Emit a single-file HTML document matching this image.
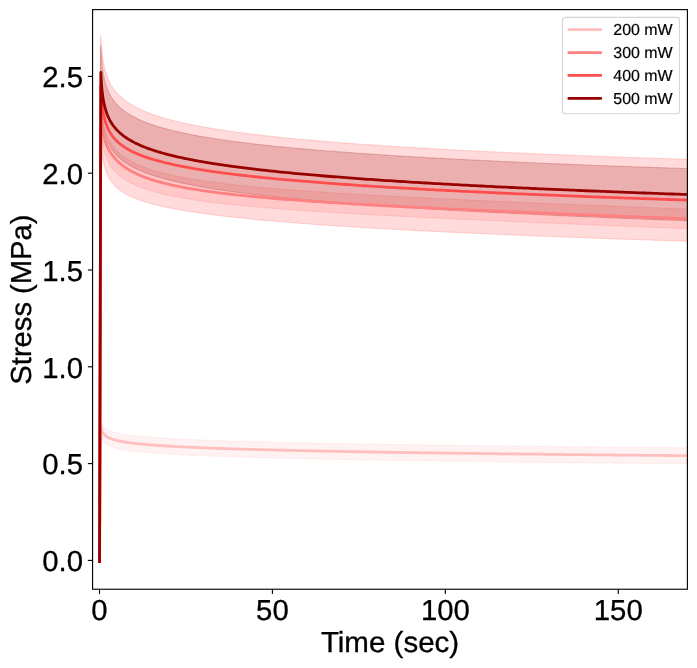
<!DOCTYPE html>
<html><head><meta charset="utf-8"><title>Stress relaxation</title>
<style>
html,body{margin:0;padding:0;background:#fff;}
body{width:697px;height:668px;overflow:hidden;font-family:"Liberation Sans",sans-serif;}
svg{display:block;will-change:transform;}
</style></head><body>
<svg width="697" height="668" viewBox="0 0 697 668"><rect width="697" height="668" fill="#fff"/><defs><clipPath id="ax"><rect x="92.58" y="9.62" width="594.8199999999999" height="579.61"/></clipPath></defs><g clip-path="url(#ax)"><path d="M99.50,560.40L100.45,560.40L100.50,421.04L100.85,419.04L101.09,420.35L101.34,421.39L101.58,422.24L101.83,422.96L102.07,423.58L102.32,424.13L102.56,424.61L102.81,425.05L103.05,425.45L103.30,425.81L103.54,426.15L103.79,426.46L104.03,426.74L104.28,427.01L104.52,427.27L104.77,427.51L105.01,427.73L105.26,427.94L105.50,428.15L105.75,428.34L105.99,428.52L106.24,428.70L106.48,428.87L106.73,429.03L106.97,429.19L107.22,429.33L107.46,429.48L107.71,429.62L107.95,429.75L108.20,429.88L108.44,430.01L108.69,430.13L108.93,430.25L109.18,430.36L109.42,430.47L109.67,430.58L109.91,430.68L110.16,430.79L110.40,430.89L110.65,430.98L110.89,431.08L111.14,431.17L111.38,431.26L111.63,431.35L111.87,431.43L112.12,431.52L112.36,431.60L112.61,431.68L112.85,431.76L113.10,431.84L113.34,431.91L113.59,431.99L113.83,432.06L114.08,432.13L114.32,432.20L114.57,432.27L114.81,432.34L115.06,432.41L115.30,432.47L115.55,432.54L115.79,432.60L116.04,432.66L116.28,432.72L116.53,432.78L116.77,432.84L117.02,432.90L117.26,432.96L117.51,433.02L117.75,433.07L118.00,433.13L118.24,433.18L118.49,433.23L118.73,433.29L118.98,433.34L119.22,433.39L119.47,433.44L119.71,433.49L119.96,433.54L120.20,433.59L120.45,433.64L120.69,433.68L120.94,433.73L121.18,433.78L121.43,433.82L121.67,433.87L121.92,433.91L122.16,433.96L122.41,434.00L122.65,434.04L122.90,434.09L123.14,434.13L123.39,434.17L123.63,434.21L123.88,434.25L124.12,434.29L124.37,434.33L124.61,434.37L124.86,434.41L125.10,434.45L125.35,434.49L125.59,434.53L125.84,434.56L126.08,434.60L126.33,434.64L126.57,434.68L126.82,434.71L127.06,434.75L127.31,434.78L127.55,434.82L127.80,434.85L128.04,434.89L128.29,434.92L128.53,434.96L128.78,434.99L129.02,435.02L129.27,435.06L129.51,435.09L129.76,435.12L130.00,435.15L131.01,435.28L132.02,435.41L133.02,435.53L134.03,435.65L135.04,435.76L136.05,435.87L137.05,435.98L138.06,436.09L139.07,436.19L140.08,436.29L141.09,436.39L142.09,436.48L143.10,436.58L144.11,436.67L145.12,436.75L146.12,436.84L147.13,436.93L148.14,437.01L149.15,437.09L150.16,437.17L151.16,437.25L152.17,437.33L153.18,437.40L154.19,437.47L155.19,437.55L156.20,437.62L157.21,437.69L158.22,437.76L159.22,437.82L160.23,437.89L161.24,437.96L162.25,438.02L163.26,438.08L164.26,438.15L165.27,438.21L166.28,438.27L167.29,438.33L168.29,438.39L169.30,438.45L170.31,438.50L171.32,438.56L172.33,438.61L173.33,438.67L174.34,438.72L175.35,438.78L176.36,438.83L177.36,438.88L178.37,438.93L179.38,438.98L180.39,439.03L181.40,439.08L182.40,439.13L183.41,439.18L184.42,439.23L185.43,439.28L186.43,439.32L187.44,439.37L188.45,439.42L189.46,439.46L190.47,439.51L191.47,439.55L192.48,439.60L193.49,439.64L194.50,439.68L195.50,439.73L196.51,439.77L197.52,439.81L198.53,439.85L199.53,439.89L200.54,439.93L201.55,439.97L202.56,440.01L203.57,440.05L204.57,440.09L205.58,440.13L206.59,440.17L207.60,440.21L208.60,440.25L209.61,440.28L210.62,440.32L211.63,440.36L212.64,440.39L213.64,440.43L214.65,440.47L215.66,440.50L216.67,440.54L217.67,440.57L218.68,440.61L219.69,440.64L220.70,440.68L221.71,440.71L222.71,440.74L223.72,440.78L224.73,440.81L225.74,440.84L226.74,440.88L227.75,440.91L228.76,440.94L229.77,440.97L230.78,441.01L231.78,441.04L232.79,441.07L233.80,441.10L234.81,441.13L235.81,441.16L236.82,441.19L237.83,441.22L238.84,441.25L239.84,441.28L240.85,441.31L241.86,441.34L242.87,441.37L243.88,441.40L244.88,441.43L245.89,441.46L246.90,441.49L247.91,441.52L248.91,441.54L249.92,441.57L250.93,441.60L251.94,441.63L252.95,441.66L253.95,441.68L254.96,441.71L255.97,441.74L256.98,441.76L257.98,441.79L258.99,441.82L260.00,441.84L263.07,441.92L266.15,442.00L269.22,442.08L272.30,442.16L275.37,442.23L278.45,442.31L281.52,442.38L284.60,442.45L287.67,442.52L290.75,442.59L293.82,442.66L296.90,442.73L299.97,442.79L303.05,442.86L306.12,442.92L309.20,442.99L312.27,443.05L315.35,443.11L318.42,443.17L321.50,443.23L324.57,443.29L327.65,443.35L330.72,443.41L333.80,443.47L336.87,443.53L339.95,443.58L343.02,443.64L346.09,443.69L349.17,443.75L352.24,443.80L355.32,443.86L358.39,443.91L361.47,443.96L364.54,444.01L367.62,444.07L370.69,444.12L373.77,444.17L376.84,444.22L379.92,444.27L382.99,444.32L386.07,444.36L389.14,444.41L392.22,444.46L395.29,444.51L398.37,444.55L401.44,444.60L404.52,444.65L407.59,444.69L410.67,444.74L413.74,444.78L416.82,444.83L419.89,444.87L422.97,444.91L426.04,444.96L429.12,445.00L432.19,445.04L435.26,445.08L438.34,445.13L441.41,445.17L444.49,445.21L447.56,445.25L450.64,445.29L453.71,445.33L456.79,445.37L459.86,445.41L462.94,445.45L466.01,445.49L469.09,445.53L472.16,445.57L475.24,445.60L478.31,445.64L481.39,445.68L484.46,445.72L487.54,445.75L490.61,445.79L493.69,445.83L496.76,445.87L499.84,445.90L502.91,445.94L505.99,445.97L509.06,446.01L512.14,446.04L515.21,446.08L518.28,446.11L521.36,446.15L524.43,446.18L527.51,446.22L530.58,446.25L533.66,446.29L536.73,446.32L539.81,446.35L542.88,446.39L545.96,446.42L549.03,446.45L552.11,446.48L555.18,446.52L558.26,446.55L561.33,446.58L564.41,446.61L567.48,446.64L570.56,446.68L573.63,446.71L576.71,446.74L579.78,446.77L582.86,446.80L585.93,446.83L589.01,446.86L592.08,446.89L595.16,446.92L598.23,446.95L601.31,446.98L604.38,447.01L607.45,447.04L610.53,447.07L613.60,447.10L616.68,447.13L619.75,447.16L622.83,447.19L625.90,447.22L628.98,447.25L632.05,447.27L635.13,447.30L638.20,447.33L641.28,447.36L644.35,447.39L647.43,447.41L650.50,447.44L653.58,447.47L656.65,447.50L659.73,447.52L662.80,447.55L665.88,447.58L668.95,447.61L672.03,447.63L675.10,447.66L678.18,447.68L681.25,447.71L684.33,447.74L687.40,447.76L687.40,463.76L684.33,463.74L681.25,463.71L678.18,463.68L675.10,463.66L672.03,463.63L668.95,463.60L665.88,463.57L662.80,463.54L659.73,463.52L656.65,463.49L653.58,463.46L650.50,463.43L647.43,463.40L644.35,463.37L641.28,463.35L638.20,463.32L635.13,463.29L632.05,463.26L628.98,463.23L625.90,463.20L622.83,463.17L619.75,463.14L616.68,463.11L613.60,463.08L610.53,463.05L607.45,463.02L604.38,462.99L601.31,462.96L598.23,462.93L595.16,462.90L592.08,462.86L589.01,462.83L585.93,462.80L582.86,462.77L579.78,462.74L576.71,462.71L573.63,462.67L570.56,462.64L567.48,462.61L564.41,462.58L561.33,462.54L558.26,462.51L555.18,462.48L552.11,462.44L549.03,462.41L545.96,462.38L542.88,462.34L539.81,462.31L536.73,462.27L533.66,462.24L530.58,462.20L527.51,462.17L524.43,462.13L521.36,462.10L518.28,462.06L515.21,462.02L512.14,461.99L509.06,461.95L505.99,461.92L502.91,461.88L499.84,461.84L496.76,461.80L493.69,461.77L490.61,461.73L487.54,461.69L484.46,461.65L481.39,461.61L478.31,461.57L475.24,461.53L472.16,461.49L469.09,461.45L466.01,461.41L462.94,461.37L459.86,461.33L456.79,461.29L453.71,461.25L450.64,461.21L447.56,461.17L444.49,461.12L441.41,461.08L438.34,461.04L435.26,461.00L432.19,460.95L429.12,460.91L426.04,460.86L422.97,460.82L419.89,460.77L416.82,460.73L413.74,460.68L410.67,460.64L407.59,460.59L404.52,460.54L401.44,460.49L398.37,460.45L395.29,460.40L392.22,460.35L389.14,460.30L386.07,460.25L382.99,460.20L379.92,460.15L376.84,460.10L373.77,460.05L370.69,460.00L367.62,459.94L364.54,459.89L361.47,459.84L358.39,459.78L355.32,459.73L352.24,459.67L349.17,459.61L346.09,459.56L343.02,459.50L339.95,459.44L336.87,459.38L333.80,459.33L330.72,459.27L327.65,459.20L324.57,459.14L321.50,459.08L318.42,459.02L315.35,458.95L312.27,458.89L309.20,458.82L306.12,458.76L303.05,458.69L299.97,458.62L296.90,458.55L293.82,458.48L290.75,458.41L287.67,458.34L284.60,458.27L281.52,458.19L278.45,458.12L275.37,458.04L272.30,457.96L269.22,457.89L266.15,457.81L263.07,457.72L260.00,457.64L258.99,457.61L257.98,457.59L256.98,457.56L255.97,457.53L254.96,457.50L253.95,457.47L252.95,457.44L251.94,457.42L250.93,457.39L249.92,457.36L248.91,457.33L247.91,457.30L246.90,457.27L245.89,457.24L244.88,457.21L243.88,457.18L242.87,457.15L241.86,457.12L240.85,457.09L239.84,457.06L238.84,457.03L237.83,457.00L236.82,456.96L235.81,456.93L234.81,456.90L233.80,456.87L232.79,456.84L231.78,456.80L230.78,456.77L229.77,456.74L228.76,456.70L227.75,456.67L226.74,456.64L225.74,456.60L224.73,456.57L223.72,456.53L222.71,456.50L221.71,456.46L220.70,456.43L219.69,456.39L218.68,456.36L217.67,456.32L216.67,456.28L215.66,456.25L214.65,456.21L213.64,456.17L212.64,456.13L211.63,456.10L210.62,456.06L209.61,456.02L208.60,455.98L207.60,455.94L206.59,455.90L205.58,455.86L204.57,455.82L203.57,455.78L202.56,455.74L201.55,455.70L200.54,455.66L199.53,455.61L198.53,455.57L197.52,455.53L196.51,455.48L195.50,455.44L194.50,455.40L193.49,455.35L192.48,455.31L191.47,455.26L190.47,455.21L189.46,455.17L188.45,455.12L187.44,455.07L186.43,455.02L185.43,454.98L184.42,454.93L183.41,454.88L182.40,454.83L181.40,454.77L180.39,454.72L179.38,454.67L178.37,454.62L177.36,454.56L176.36,454.51L175.35,454.46L174.34,454.40L173.33,454.34L172.33,454.29L171.32,454.23L170.31,454.17L169.30,454.11L168.29,454.05L167.29,453.99L166.28,453.93L165.27,453.86L164.26,453.80L163.26,453.73L162.25,453.67L161.24,453.60L160.23,453.53L159.22,453.46L158.22,453.39L157.21,453.32L156.20,453.25L155.19,453.18L154.19,453.10L153.18,453.02L152.17,452.95L151.16,452.87L150.16,452.78L149.15,452.70L148.14,452.62L147.13,452.53L146.12,452.44L145.12,452.35L144.11,452.26L143.10,452.17L142.09,452.07L141.09,451.97L140.08,451.87L139.07,451.77L138.06,451.66L137.05,451.55L136.05,451.44L135.04,451.32L134.03,451.20L133.02,451.08L132.02,450.95L131.01,450.82L130.00,450.69L129.76,450.65L129.51,450.62L129.27,450.59L129.02,450.55L128.78,450.52L128.53,450.48L128.29,450.45L128.04,450.41L127.80,450.38L127.55,450.34L127.31,450.30L127.06,450.27L126.82,450.23L126.57,450.19L126.33,450.15L126.08,450.11L125.84,450.08L125.59,450.04L125.35,450.00L125.10,449.96L124.86,449.92L124.61,449.88L124.37,449.83L124.12,449.79L123.88,449.75L123.63,449.71L123.39,449.67L123.14,449.62L122.90,449.58L122.65,449.53L122.41,449.49L122.16,449.44L121.92,449.40L121.67,449.35L121.43,449.30L121.18,449.26L120.94,449.21L120.69,449.16L120.45,449.11L120.20,449.06L119.96,449.01L119.71,448.96L119.47,448.91L119.22,448.85L118.98,448.80L118.73,448.75L118.49,448.69L118.24,448.64L118.00,448.58L117.75,448.52L117.51,448.47L117.26,448.41L117.02,448.35L116.77,448.29L116.53,448.22L116.28,448.16L116.04,448.10L115.79,448.03L115.55,447.97L115.30,447.90L115.06,447.83L114.81,447.76L114.57,447.69L114.32,447.62L114.08,447.55L113.83,447.47L113.59,447.40L113.34,447.32L113.10,447.24L112.85,447.16L112.61,447.08L112.36,447.00L112.12,446.91L111.87,446.82L111.63,446.73L111.38,446.64L111.14,446.55L110.89,446.45L110.65,446.36L110.40,446.26L110.16,446.15L109.91,446.05L109.67,445.94L109.42,445.83L109.18,445.71L108.93,445.59L108.69,445.47L108.44,445.34L108.20,445.21L107.95,445.08L107.71,444.94L107.46,444.80L107.22,444.65L106.97,444.49L106.73,444.33L106.48,444.16L106.24,443.99L105.99,443.81L105.75,443.62L105.50,443.42L105.26,443.21L105.01,442.99L104.77,442.76L104.52,442.51L104.28,442.25L104.03,441.97L103.79,441.67L103.54,441.35L103.30,441.00L103.05,440.63L102.81,440.22L102.56,439.77L102.32,439.27L102.07,438.70L101.83,438.06L101.58,437.32L101.34,436.45L101.09,435.39L100.85,434.04L100.50,436.04Z" fill="#ffbfbf" fill-opacity="0.2" stroke="#ffbfbf" stroke-opacity="0.2" stroke-width="1.1" stroke-linejoin="round"/><path d="M99.50,560.40L100.45,560.40L100.50,100.51L100.85,98.51L101.09,104.38L101.34,108.59L101.58,111.83L101.83,114.44L102.07,116.63L102.32,118.51L102.56,120.16L102.81,121.63L103.05,122.96L103.30,124.18L103.54,125.30L103.79,126.34L104.03,127.32L104.28,128.23L104.52,129.10L104.77,129.92L105.01,130.70L105.26,131.44L105.50,132.15L105.75,132.84L105.99,133.49L106.24,134.13L106.48,134.73L106.73,135.32L106.97,135.89L107.22,136.44L107.46,136.98L107.71,137.50L107.95,138.00L108.20,138.49L108.44,138.97L108.69,139.43L108.93,139.89L109.18,140.33L109.42,140.76L109.67,141.18L109.91,141.60L110.16,142.00L110.40,142.39L110.65,142.78L110.89,143.16L111.14,143.53L111.38,143.89L111.63,144.25L111.87,144.60L112.12,144.94L112.36,145.28L112.61,145.61L112.85,145.93L113.10,146.25L113.34,146.56L113.59,146.87L113.83,147.18L114.08,147.47L114.32,147.77L114.57,148.06L114.81,148.34L115.06,148.62L115.30,148.90L115.55,149.17L115.79,149.44L116.04,149.70L116.28,149.96L116.53,150.22L116.77,150.47L117.02,150.72L117.26,150.96L117.51,151.21L117.75,151.45L118.00,151.68L118.24,151.92L118.49,152.15L118.73,152.37L118.98,152.60L119.22,152.82L119.47,153.04L119.71,153.25L119.96,153.47L120.20,153.68L120.45,153.89L120.69,154.09L120.94,154.30L121.18,154.50L121.43,154.70L121.67,154.90L121.92,155.09L122.16,155.28L122.41,155.48L122.65,155.66L122.90,155.85L123.14,156.04L123.39,156.22L123.63,156.40L123.88,156.58L124.12,156.76L124.37,156.93L124.61,157.10L124.86,157.28L125.10,157.45L125.35,157.61L125.59,157.78L125.84,157.95L126.08,158.11L126.33,158.27L126.57,158.43L126.82,158.59L127.06,158.75L127.31,158.91L127.55,159.06L127.80,159.22L128.04,159.37L128.29,159.52L128.53,159.67L128.78,159.82L129.02,159.96L129.27,160.11L129.51,160.25L129.76,160.40L130.00,160.54L131.01,161.11L132.02,161.66L133.02,162.19L134.03,162.71L135.04,163.21L136.05,163.70L137.05,164.17L138.06,164.63L139.07,165.08L140.08,165.51L141.09,165.93L142.09,166.35L143.10,166.75L144.11,167.14L145.12,167.52L146.12,167.89L147.13,168.25L148.14,168.61L149.15,168.95L150.16,169.29L151.16,169.63L152.17,169.95L153.18,170.27L154.19,170.58L155.19,170.88L156.20,171.18L157.21,171.47L158.22,171.76L159.22,172.04L160.23,172.32L161.24,172.59L162.25,172.85L163.26,173.11L164.26,173.37L165.27,173.62L166.28,173.87L167.29,174.11L168.29,174.35L169.30,174.59L170.31,174.82L171.32,175.05L172.33,175.27L173.33,175.49L174.34,175.71L175.35,175.92L176.36,176.13L177.36,176.34L178.37,176.54L179.38,176.74L180.39,176.94L181.40,177.14L182.40,177.33L183.41,177.52L184.42,177.71L185.43,177.89L186.43,178.08L187.44,178.26L188.45,178.44L189.46,178.61L190.47,178.78L191.47,178.96L192.48,179.12L193.49,179.29L194.50,179.46L195.50,179.62L196.51,179.78L197.52,179.94L198.53,180.10L199.53,180.25L200.54,180.41L201.55,180.56L202.56,180.71L203.57,180.86L204.57,181.00L205.58,181.15L206.59,181.29L207.60,181.44L208.60,181.58L209.61,181.72L210.62,181.85L211.63,181.99L212.64,182.13L213.64,182.26L214.65,182.39L215.66,182.52L216.67,182.65L217.67,182.78L218.68,182.91L219.69,183.04L220.70,183.16L221.71,183.29L222.71,183.41L223.72,183.53L224.73,183.65L225.74,183.77L226.74,183.89L227.75,184.01L228.76,184.12L229.77,184.24L230.78,184.35L231.78,184.47L232.79,184.58L233.80,184.69L234.81,184.80L235.81,184.91L236.82,185.02L237.83,185.13L238.84,185.24L239.84,185.35L240.85,185.45L241.86,185.56L242.87,185.66L243.88,185.76L244.88,185.87L245.89,185.97L246.90,186.07L247.91,186.17L248.91,186.27L249.92,186.37L250.93,186.47L251.94,186.56L252.95,186.66L253.95,186.76L254.96,186.85L255.97,186.95L256.98,187.04L257.98,187.13L258.99,187.23L260.00,187.32L263.07,187.60L266.15,187.87L269.22,188.14L272.30,188.40L275.37,188.66L278.45,188.91L281.52,189.16L284.60,189.41L287.67,189.65L290.75,189.89L293.82,190.12L296.90,190.35L299.97,190.58L303.05,190.80L306.12,191.02L309.20,191.24L312.27,191.46L315.35,191.67L318.42,191.88L321.50,192.08L324.57,192.29L327.65,192.49L330.72,192.69L333.80,192.89L336.87,193.08L339.95,193.27L343.02,193.46L346.09,193.65L349.17,193.84L352.24,194.02L355.32,194.21L358.39,194.39L361.47,194.57L364.54,194.75L367.62,194.92L370.69,195.10L373.77,195.27L376.84,195.44L379.92,195.61L382.99,195.78L386.07,195.95L389.14,196.11L392.22,196.28L395.29,196.44L398.37,196.60L401.44,196.77L404.52,196.93L407.59,197.08L410.67,197.24L413.74,197.40L416.82,197.55L419.89,197.71L422.97,197.86L426.04,198.02L429.12,198.17L432.19,198.32L435.26,198.47L438.34,198.62L441.41,198.77L444.49,198.91L447.56,199.06L450.64,199.21L453.71,199.35L456.79,199.49L459.86,199.64L462.94,199.78L466.01,199.92L469.09,200.07L472.16,200.21L475.24,200.35L478.31,200.49L481.39,200.62L484.46,200.76L487.54,200.90L490.61,201.04L493.69,201.17L496.76,201.31L499.84,201.45L502.91,201.58L505.99,201.71L509.06,201.85L512.14,201.98L515.21,202.11L518.28,202.25L521.36,202.38L524.43,202.51L527.51,202.64L530.58,202.77L533.66,202.90L536.73,203.03L539.81,203.16L542.88,203.29L545.96,203.42L549.03,203.55L552.11,203.67L555.18,203.80L558.26,203.93L561.33,204.05L564.41,204.18L567.48,204.31L570.56,204.43L573.63,204.56L576.71,204.68L579.78,204.80L582.86,204.93L585.93,205.05L589.01,205.18L592.08,205.30L595.16,205.42L598.23,205.54L601.31,205.67L604.38,205.79L607.45,205.91L610.53,206.03L613.60,206.15L616.68,206.27L619.75,206.39L622.83,206.51L625.90,206.63L628.98,206.75L632.05,206.87L635.13,206.99L638.20,207.11L641.28,207.23L644.35,207.35L647.43,207.47L650.50,207.58L653.58,207.70L656.65,207.82L659.73,207.94L662.80,208.05L665.88,208.17L668.95,208.29L672.03,208.40L675.10,208.52L678.18,208.64L681.25,208.75L684.33,208.87L687.40,208.98L687.40,228.62L684.33,228.50L681.25,228.38L678.18,228.26L675.10,228.14L672.03,228.03L668.95,227.91L665.88,227.79L662.80,227.67L659.73,227.55L656.65,227.43L653.58,227.31L650.50,227.19L647.43,227.07L644.35,226.95L641.28,226.83L638.20,226.71L635.13,226.59L632.05,226.46L628.98,226.34L625.90,226.22L622.83,226.10L619.75,225.98L616.68,225.85L613.60,225.73L610.53,225.61L607.45,225.49L604.38,225.36L601.31,225.24L598.23,225.12L595.16,224.99L592.08,224.87L589.01,224.74L585.93,224.62L582.86,224.49L579.78,224.37L576.71,224.24L573.63,224.12L570.56,223.99L567.48,223.86L564.41,223.74L561.33,223.61L558.26,223.48L555.18,223.35L552.11,223.23L549.03,223.10L545.96,222.97L542.88,222.84L539.81,222.71L536.73,222.58L533.66,222.45L530.58,222.32L527.51,222.19L524.43,222.06L521.36,221.92L518.28,221.79L515.21,221.66L512.14,221.53L509.06,221.39L505.99,221.26L502.91,221.12L499.84,220.99L496.76,220.85L493.69,220.72L490.61,220.58L487.54,220.45L484.46,220.31L481.39,220.17L478.31,220.03L475.24,219.89L472.16,219.75L469.09,219.61L466.01,219.47L462.94,219.33L459.86,219.19L456.79,219.05L453.71,218.90L450.64,218.76L447.56,218.62L444.49,218.47L441.41,218.32L438.34,218.18L435.26,218.03L432.19,217.88L429.12,217.73L426.04,217.58L422.97,217.43L419.89,217.28L416.82,217.13L413.74,216.98L410.67,216.82L407.59,216.67L404.52,216.51L401.44,216.35L398.37,216.20L395.29,216.04L392.22,215.88L389.14,215.72L386.07,215.55L382.99,215.39L379.92,215.22L376.84,215.06L373.77,214.89L370.69,214.72L367.62,214.55L364.54,214.38L361.47,214.21L358.39,214.04L355.32,213.86L352.24,213.68L349.17,213.50L346.09,213.32L343.02,213.14L339.95,212.96L336.87,212.77L333.80,212.58L330.72,212.39L327.65,212.20L324.57,212.01L321.50,211.81L318.42,211.61L315.35,211.41L312.27,211.21L309.20,211.00L306.12,210.80L303.05,210.59L299.97,210.37L296.90,210.16L293.82,209.94L290.75,209.71L287.67,209.49L284.60,209.26L281.52,209.02L278.45,208.79L275.37,208.55L272.30,208.30L269.22,208.05L266.15,207.80L263.07,207.54L260.00,207.28L258.99,207.19L257.98,207.11L256.98,207.02L255.97,206.93L254.96,206.84L253.95,206.75L252.95,206.66L251.94,206.57L250.93,206.48L249.92,206.38L248.91,206.29L247.91,206.20L246.90,206.10L245.89,206.01L244.88,205.91L243.88,205.82L242.87,205.72L241.86,205.62L240.85,205.52L239.84,205.42L238.84,205.33L237.83,205.22L236.82,205.12L235.81,205.02L234.81,204.92L233.80,204.81L232.79,204.71L231.78,204.60L230.78,204.50L229.77,204.39L228.76,204.28L227.75,204.17L226.74,204.06L225.74,203.95L224.73,203.84L223.72,203.73L222.71,203.62L221.71,203.50L220.70,203.38L219.69,203.27L218.68,203.15L217.67,203.03L216.67,202.91L215.66,202.79L214.65,202.67L213.64,202.54L212.64,202.42L211.63,202.29L210.62,202.17L209.61,202.04L208.60,201.91L207.60,201.78L206.59,201.65L205.58,201.51L204.57,201.38L203.57,201.24L202.56,201.10L201.55,200.96L200.54,200.82L199.53,200.68L198.53,200.53L197.52,200.39L196.51,200.24L195.50,200.09L194.50,199.94L193.49,199.79L192.48,199.63L191.47,199.48L190.47,199.32L189.46,199.16L188.45,198.99L187.44,198.83L186.43,198.66L185.43,198.49L184.42,198.32L183.41,198.15L182.40,197.97L181.40,197.79L180.39,197.61L179.38,197.43L178.37,197.24L177.36,197.06L176.36,196.86L175.35,196.67L174.34,196.47L173.33,196.27L172.33,196.07L171.32,195.86L170.31,195.65L169.30,195.44L168.29,195.22L167.29,195.00L166.28,194.77L165.27,194.55L164.26,194.31L163.26,194.08L162.25,193.84L161.24,193.59L160.23,193.34L159.22,193.09L158.22,192.83L157.21,192.56L156.20,192.29L155.19,192.02L154.19,191.74L153.18,191.45L152.17,191.16L151.16,190.86L150.16,190.55L149.15,190.24L148.14,189.92L147.13,189.59L146.12,189.26L145.12,188.91L144.11,188.56L143.10,188.20L142.09,187.83L141.09,187.45L140.08,187.06L139.07,186.66L138.06,186.25L137.05,185.82L136.05,185.39L135.04,184.94L134.03,184.47L133.02,183.99L132.02,183.50L131.01,182.99L130.00,182.46L129.76,182.33L129.51,182.19L129.27,182.06L129.02,181.92L128.78,181.79L128.53,181.65L128.29,181.51L128.04,181.37L127.80,181.23L127.55,181.09L127.31,180.95L127.06,180.80L126.82,180.65L126.57,180.51L126.33,180.36L126.08,180.21L125.84,180.06L125.59,179.90L125.35,179.75L125.10,179.59L124.86,179.43L124.61,179.27L124.37,179.11L124.12,178.95L123.88,178.78L123.63,178.62L123.39,178.45L123.14,178.28L122.90,178.11L122.65,177.93L122.41,177.76L122.16,177.58L121.92,177.40L121.67,177.22L121.43,177.03L121.18,176.85L120.94,176.66L120.69,176.47L120.45,176.28L120.20,176.08L119.96,175.89L119.71,175.69L119.47,175.49L119.22,175.28L118.98,175.07L118.73,174.86L118.49,174.65L118.24,174.44L118.00,174.22L117.75,174.00L117.51,173.77L117.26,173.55L117.02,173.32L116.77,173.08L116.53,172.85L116.28,172.61L116.04,172.36L115.79,172.11L115.55,171.86L115.30,171.61L115.06,171.35L114.81,171.09L114.57,170.82L114.32,170.55L114.08,170.27L113.83,169.99L113.59,169.70L113.34,169.41L113.10,169.12L112.85,168.82L112.61,168.51L112.36,168.20L112.12,167.88L111.87,167.56L111.63,167.23L111.38,166.89L111.14,166.54L110.89,166.19L110.65,165.83L110.40,165.47L110.16,165.09L109.91,164.71L109.67,164.31L109.42,163.91L109.18,163.50L108.93,163.08L108.69,162.64L108.44,162.20L108.20,161.74L107.95,161.27L107.71,160.78L107.46,160.28L107.22,159.77L106.97,159.23L106.73,158.68L106.48,158.11L106.24,157.52L105.99,156.90L105.75,156.26L105.50,155.59L105.26,154.89L105.01,154.16L104.77,153.38L104.52,152.57L104.28,151.71L104.03,150.79L103.79,149.81L103.54,148.76L103.30,147.63L103.05,146.39L102.81,145.02L102.56,143.51L102.32,141.80L102.07,139.84L101.83,137.54L101.58,134.78L101.34,131.34L101.09,126.83L100.85,120.52L100.50,122.52Z" fill="#ff8080" fill-opacity="0.2" stroke="#ff8080" stroke-opacity="0.2" stroke-width="1.1" stroke-linejoin="round"/><path d="M99.50,560.40L100.45,560.40L100.50,37.53L100.85,35.53L101.09,40.23L101.34,44.05L101.58,47.25L101.83,50.01L102.07,52.43L102.32,54.59L102.56,56.54L102.81,58.31L103.05,59.93L103.30,61.43L103.54,62.82L103.79,64.12L104.03,65.34L104.28,66.48L104.52,67.56L104.77,68.59L105.01,69.56L105.26,70.48L105.50,71.37L105.75,72.21L105.99,73.02L106.24,73.79L106.48,74.54L106.73,75.26L106.97,75.95L107.22,76.61L107.46,77.26L107.71,77.88L107.95,78.49L108.20,79.07L108.44,79.64L108.69,80.19L108.93,80.72L109.18,81.24L109.42,81.75L109.67,82.24L109.91,82.73L110.16,83.19L110.40,83.65L110.65,84.10L110.89,84.54L111.14,84.96L111.38,85.38L111.63,85.79L111.87,86.19L112.12,86.58L112.36,86.96L112.61,87.34L112.85,87.70L113.10,88.07L113.34,88.42L113.59,88.77L113.83,89.11L114.08,89.44L114.32,89.77L114.57,90.10L114.81,90.42L115.06,90.73L115.30,91.04L115.55,91.34L115.79,91.64L116.04,91.93L116.28,92.22L116.53,92.50L116.77,92.78L117.02,93.06L117.26,93.33L117.51,93.60L117.75,93.86L118.00,94.12L118.24,94.38L118.49,94.64L118.73,94.89L118.98,95.13L119.22,95.38L119.47,95.62L119.71,95.85L119.96,96.09L120.20,96.32L120.45,96.55L120.69,96.77L120.94,97.00L121.18,97.22L121.43,97.44L121.67,97.65L121.92,97.86L122.16,98.08L122.41,98.28L122.65,98.49L122.90,98.69L123.14,98.89L123.39,99.09L123.63,99.29L123.88,99.49L124.12,99.68L124.37,99.87L124.61,100.06L124.86,100.25L125.10,100.43L125.35,100.62L125.59,100.80L125.84,100.98L126.08,101.16L126.33,101.33L126.57,101.51L126.82,101.68L127.06,101.85L127.31,102.02L127.55,102.19L127.80,102.36L128.04,102.52L128.29,102.69L128.53,102.85L128.78,103.01L129.02,103.17L129.27,103.33L129.51,103.49L129.76,103.64L130.00,103.80L131.01,104.42L132.02,105.02L133.02,105.61L134.03,106.17L135.04,106.72L136.05,107.26L137.05,107.77L138.06,108.28L139.07,108.77L140.08,109.25L141.09,109.71L142.09,110.17L143.10,110.61L144.11,111.05L145.12,111.47L146.12,111.88L147.13,112.29L148.14,112.69L149.15,113.07L150.16,113.45L151.16,113.83L152.17,114.19L153.18,114.55L154.19,114.90L155.19,115.25L156.20,115.58L157.21,115.92L158.22,116.24L159.22,116.56L160.23,116.88L161.24,117.19L162.25,117.49L163.26,117.79L164.26,118.09L165.27,118.38L166.28,118.67L167.29,118.95L168.29,119.23L169.30,119.50L170.31,119.77L171.32,120.03L172.33,120.30L173.33,120.55L174.34,120.81L175.35,121.06L176.36,121.31L177.36,121.55L178.37,121.79L179.38,122.03L180.39,122.27L181.40,122.50L182.40,122.73L183.41,122.96L184.42,123.18L185.43,123.40L186.43,123.62L187.44,123.84L188.45,124.05L189.46,124.26L190.47,124.47L191.47,124.68L192.48,124.88L193.49,125.08L194.50,125.28L195.50,125.48L196.51,125.67L197.52,125.87L198.53,126.06L199.53,126.25L200.54,126.44L201.55,126.62L202.56,126.81L203.57,126.99L204.57,127.17L205.58,127.35L206.59,127.52L207.60,127.70L208.60,127.87L209.61,128.04L210.62,128.21L211.63,128.38L212.64,128.55L213.64,128.72L214.65,128.88L215.66,129.04L216.67,129.21L217.67,129.37L218.68,129.52L219.69,129.68L220.70,129.84L221.71,129.99L222.71,130.15L223.72,130.30L224.73,130.45L225.74,130.60L226.74,130.75L227.75,130.89L228.76,131.04L229.77,131.19L230.78,131.33L231.78,131.47L232.79,131.61L233.80,131.75L234.81,131.89L235.81,132.03L236.82,132.17L237.83,132.31L238.84,132.44L239.84,132.58L240.85,132.71L241.86,132.84L242.87,132.98L243.88,133.11L244.88,133.24L245.89,133.36L246.90,133.49L247.91,133.62L248.91,133.75L249.92,133.87L250.93,134.00L251.94,134.12L252.95,134.24L253.95,134.37L254.96,134.49L255.97,134.61L256.98,134.73L257.98,134.85L258.99,134.96L260.00,135.08L263.07,135.44L266.15,135.78L269.22,136.13L272.30,136.46L275.37,136.79L278.45,137.11L281.52,137.43L284.60,137.74L287.67,138.05L290.75,138.35L293.82,138.65L296.90,138.94L299.97,139.23L303.05,139.52L306.12,139.80L309.20,140.07L312.27,140.34L315.35,140.61L318.42,140.87L321.50,141.14L324.57,141.39L327.65,141.65L330.72,141.89L333.80,142.14L336.87,142.38L339.95,142.63L343.02,142.86L346.09,143.10L349.17,143.33L352.24,143.56L355.32,143.78L358.39,144.01L361.47,144.23L364.54,144.44L367.62,144.66L370.69,144.87L373.77,145.08L376.84,145.29L379.92,145.50L382.99,145.70L386.07,145.90L389.14,146.10L392.22,146.30L395.29,146.49L398.37,146.69L401.44,146.88L404.52,147.07L407.59,147.25L410.67,147.44L413.74,147.62L416.82,147.81L419.89,147.99L422.97,148.17L426.04,148.34L429.12,148.52L432.19,148.69L435.26,148.86L438.34,149.03L441.41,149.20L444.49,149.37L447.56,149.54L450.64,149.70L453.71,149.86L456.79,150.03L459.86,150.19L462.94,150.34L466.01,150.50L469.09,150.66L472.16,150.81L475.24,150.97L478.31,151.12L481.39,151.27L484.46,151.42L487.54,151.57L490.61,151.72L493.69,151.86L496.76,152.01L499.84,152.15L502.91,152.30L505.99,152.44L509.06,152.58L512.14,152.72L515.21,152.86L518.28,153.00L521.36,153.14L524.43,153.27L527.51,153.41L530.58,153.54L533.66,153.67L536.73,153.81L539.81,153.94L542.88,154.07L545.96,154.20L549.03,154.33L552.11,154.45L555.18,154.58L558.26,154.71L561.33,154.83L564.41,154.96L567.48,155.08L570.56,155.20L573.63,155.33L576.71,155.45L579.78,155.57L582.86,155.69L585.93,155.81L589.01,155.92L592.08,156.04L595.16,156.16L598.23,156.28L601.31,156.39L604.38,156.51L607.45,156.62L610.53,156.73L613.60,156.85L616.68,156.96L619.75,157.07L622.83,157.18L625.90,157.29L628.98,157.40L632.05,157.51L635.13,157.62L638.20,157.72L641.28,157.83L644.35,157.94L647.43,158.04L650.50,158.15L653.58,158.25L656.65,158.36L659.73,158.46L662.80,158.56L665.88,158.67L668.95,158.77L672.03,158.87L675.10,158.97L678.18,159.07L681.25,159.17L684.33,159.27L687.40,159.37L687.40,241.23L684.33,241.14L681.25,241.04L678.18,240.94L675.10,240.85L672.03,240.75L668.95,240.65L665.88,240.55L662.80,240.45L659.73,240.35L656.65,240.25L653.58,240.15L650.50,240.05L647.43,239.95L644.35,239.85L641.28,239.75L638.20,239.65L635.13,239.54L632.05,239.44L628.98,239.34L625.90,239.23L622.83,239.13L619.75,239.02L616.68,238.91L613.60,238.81L610.53,238.70L607.45,238.59L604.38,238.48L601.31,238.38L598.23,238.27L595.16,238.16L592.08,238.05L589.01,237.94L585.93,237.82L582.86,237.71L579.78,237.60L576.71,237.49L573.63,237.37L570.56,237.26L567.48,237.14L564.41,237.03L561.33,236.91L558.26,236.79L555.18,236.68L552.11,236.56L549.03,236.44L545.96,236.32L542.88,236.20L539.81,236.08L536.73,235.96L533.66,235.84L530.58,235.71L527.51,235.59L524.43,235.46L521.36,235.34L518.28,235.21L515.21,235.09L512.14,234.96L509.06,234.83L505.99,234.70L502.91,234.57L499.84,234.44L496.76,234.31L493.69,234.18L490.61,234.04L487.54,233.91L484.46,233.77L481.39,233.64L478.31,233.50L475.24,233.36L472.16,233.23L469.09,233.09L466.01,232.94L462.94,232.80L459.86,232.66L456.79,232.52L453.71,232.37L450.64,232.23L447.56,232.08L444.49,231.93L441.41,231.78L438.34,231.63L435.26,231.48L432.19,231.33L429.12,231.18L426.04,231.02L422.97,230.86L419.89,230.71L416.82,230.55L413.74,230.39L410.67,230.23L407.59,230.07L404.52,229.90L401.44,229.74L398.37,229.57L395.29,229.40L392.22,229.23L389.14,229.06L386.07,228.89L382.99,228.71L379.92,228.54L376.84,228.36L373.77,228.18L370.69,228.00L367.62,227.82L364.54,227.63L361.47,227.45L358.39,227.26L355.32,227.07L352.24,226.88L349.17,226.68L346.09,226.49L343.02,226.29L339.95,226.09L336.87,225.88L333.80,225.68L330.72,225.47L327.65,225.26L324.57,225.05L321.50,224.83L318.42,224.62L315.35,224.40L312.27,224.18L309.20,223.95L306.12,223.72L303.05,223.49L299.97,223.26L296.90,223.02L293.82,222.78L290.75,222.53L287.67,222.29L284.60,222.03L281.52,221.78L278.45,221.52L275.37,221.26L272.30,220.99L269.22,220.72L266.15,220.44L263.07,220.16L260.00,219.88L258.99,219.78L257.98,219.69L256.98,219.59L255.97,219.50L254.96,219.40L253.95,219.30L252.95,219.21L251.94,219.11L250.93,219.01L249.92,218.91L248.91,218.81L247.91,218.71L246.90,218.61L245.89,218.51L244.88,218.40L243.88,218.30L242.87,218.20L241.86,218.09L240.85,217.99L239.84,217.88L238.84,217.77L237.83,217.67L236.82,217.56L235.81,217.45L234.81,217.34L233.80,217.23L232.79,217.12L231.78,217.01L230.78,216.90L229.77,216.78L228.76,216.67L227.75,216.55L226.74,216.44L225.74,216.32L224.73,216.20L223.72,216.09L222.71,215.97L221.71,215.85L220.70,215.73L219.69,215.60L218.68,215.48L217.67,215.36L216.67,215.23L215.66,215.11L214.65,214.98L213.64,214.85L212.64,214.72L211.63,214.59L210.62,214.46L209.61,214.33L208.60,214.20L207.60,214.06L206.59,213.93L205.58,213.79L204.57,213.65L203.57,213.51L202.56,213.37L201.55,213.23L200.54,213.09L199.53,212.94L198.53,212.80L197.52,212.65L196.51,212.50L195.50,212.35L194.50,212.20L193.49,212.05L192.48,211.89L191.47,211.74L190.47,211.58L189.46,211.42L188.45,211.26L187.44,211.10L186.43,210.93L185.43,210.77L184.42,210.60L183.41,210.43L182.40,210.25L181.40,210.08L180.39,209.90L179.38,209.73L178.37,209.55L177.36,209.36L176.36,209.18L175.35,208.99L174.34,208.80L173.33,208.61L172.33,208.41L171.32,208.21L170.31,208.01L169.30,207.81L168.29,207.61L167.29,207.40L166.28,207.18L165.27,206.97L164.26,206.75L163.26,206.53L162.25,206.30L161.24,206.07L160.23,205.84L159.22,205.61L158.22,205.36L157.21,205.12L156.20,204.87L155.19,204.62L154.19,204.36L153.18,204.10L152.17,203.83L151.16,203.56L150.16,203.28L149.15,202.99L148.14,202.70L147.13,202.41L146.12,202.11L145.12,201.80L144.11,201.48L143.10,201.16L142.09,200.83L141.09,200.49L140.08,200.14L139.07,199.78L138.06,199.41L137.05,199.04L136.05,198.65L135.04,198.25L134.03,197.84L133.02,197.41L132.02,196.98L131.01,196.52L130.00,196.06L129.76,195.94L129.51,195.82L129.27,195.70L129.02,195.59L128.78,195.47L128.53,195.34L128.29,195.22L128.04,195.10L127.80,194.97L127.55,194.85L127.31,194.72L127.06,194.59L126.82,194.46L126.57,194.33L126.33,194.20L126.08,194.07L125.84,193.93L125.59,193.79L125.35,193.66L125.10,193.52L124.86,193.38L124.61,193.24L124.37,193.09L124.12,192.95L123.88,192.80L123.63,192.65L123.39,192.50L123.14,192.35L122.90,192.20L122.65,192.04L122.41,191.89L122.16,191.73L121.92,191.57L121.67,191.40L121.43,191.24L121.18,191.07L120.94,190.90L120.69,190.73L120.45,190.56L120.20,190.38L119.96,190.21L119.71,190.03L119.47,189.84L119.22,189.66L118.98,189.47L118.73,189.28L118.49,189.09L118.24,188.89L118.00,188.69L117.75,188.49L117.51,188.29L117.26,188.08L117.02,187.87L116.77,187.65L116.53,187.44L116.28,187.22L116.04,186.99L115.79,186.76L115.55,186.53L115.30,186.29L115.06,186.05L114.81,185.80L114.57,185.55L114.32,185.30L114.08,185.04L113.83,184.77L113.59,184.50L113.34,184.23L113.10,183.95L112.85,183.66L112.61,183.37L112.36,183.07L112.12,182.76L111.87,182.45L111.63,182.13L111.38,181.80L111.14,181.46L110.89,181.12L110.65,180.76L110.40,180.40L110.16,180.03L109.91,179.64L109.67,179.25L109.42,178.84L109.18,178.43L108.93,178.00L108.69,177.55L108.44,177.09L108.20,176.62L107.95,176.13L107.71,175.62L107.46,175.09L107.22,174.55L106.97,173.98L106.73,173.39L106.48,172.77L106.24,172.12L105.99,171.45L105.75,170.74L105.50,170.00L105.26,169.22L105.01,168.40L104.77,167.52L104.52,166.60L104.28,165.62L104.03,164.56L103.79,163.44L103.54,162.22L103.30,160.90L103.05,159.47L102.81,157.90L102.56,156.16L102.32,154.22L102.07,152.03L101.83,149.53L101.58,146.63L101.34,143.17L101.09,138.93L100.85,133.53L100.50,135.53Z" fill="#ff4d4d" fill-opacity="0.2" stroke="#ff4d4d" stroke-opacity="0.2" stroke-width="1.1" stroke-linejoin="round"/><path d="M99.50,560.40L100.45,560.40L100.50,47.73L100.85,45.73L101.09,50.86L101.34,54.98L101.58,58.40L101.83,61.33L102.07,63.88L102.32,66.14L102.56,68.16L102.81,69.99L103.05,71.67L103.30,73.20L103.54,74.63L103.79,75.95L104.03,77.19L104.28,78.35L104.52,79.44L104.77,80.47L105.01,81.45L105.26,82.37L105.50,83.26L105.75,84.10L105.99,84.91L106.24,85.68L106.48,86.42L106.73,87.13L106.97,87.82L107.22,88.48L107.46,89.11L107.71,89.73L107.95,90.32L108.20,90.90L108.44,91.46L108.69,92.00L108.93,92.52L109.18,93.03L109.42,93.53L109.67,94.01L109.91,94.48L110.16,94.94L110.40,95.39L110.65,95.82L110.89,96.25L111.14,96.66L111.38,97.07L111.63,97.47L111.87,97.85L112.12,98.23L112.36,98.61L112.61,98.97L112.85,99.33L113.10,99.68L113.34,100.02L113.59,100.36L113.83,100.69L114.08,101.01L114.32,101.33L114.57,101.64L114.81,101.95L115.06,102.25L115.30,102.55L115.55,102.84L115.79,103.13L116.04,103.41L116.28,103.69L116.53,103.96L116.77,104.23L117.02,104.50L117.26,104.76L117.51,105.02L117.75,105.27L118.00,105.52L118.24,105.77L118.49,106.01L118.73,106.25L118.98,106.49L119.22,106.72L119.47,106.95L119.71,107.18L119.96,107.40L120.20,107.63L120.45,107.84L120.69,108.06L120.94,108.27L121.18,108.49L121.43,108.69L121.67,108.90L121.92,109.10L122.16,109.31L122.41,109.50L122.65,109.70L122.90,109.90L123.14,110.09L123.39,110.28L123.63,110.47L123.88,110.65L124.12,110.84L124.37,111.02L124.61,111.20L124.86,111.38L125.10,111.56L125.35,111.73L125.59,111.91L125.84,112.08L126.08,112.25L126.33,112.42L126.57,112.58L126.82,112.75L127.06,112.91L127.31,113.07L127.55,113.24L127.80,113.39L128.04,113.55L128.29,113.71L128.53,113.86L128.78,114.02L129.02,114.17L129.27,114.32L129.51,114.47L129.76,114.62L130.00,114.77L131.01,115.36L132.02,115.93L133.02,116.49L134.03,117.03L135.04,117.55L136.05,118.05L137.05,118.55L138.06,119.03L139.07,119.49L140.08,119.95L141.09,120.39L142.09,120.82L143.10,121.24L144.11,121.65L145.12,122.06L146.12,122.45L147.13,122.83L148.14,123.21L149.15,123.58L150.16,123.94L151.16,124.29L152.17,124.64L153.18,124.98L154.19,125.31L155.19,125.64L156.20,125.96L157.21,126.28L158.22,126.59L159.22,126.89L160.23,127.19L161.24,127.48L162.25,127.77L163.26,128.06L164.26,128.34L165.27,128.62L166.28,128.89L167.29,129.15L168.29,129.42L169.30,129.68L170.31,129.93L171.32,130.19L172.33,130.44L173.33,130.68L174.34,130.92L175.35,131.16L176.36,131.40L177.36,131.63L178.37,131.86L179.38,132.09L180.39,132.31L181.40,132.53L182.40,132.75L183.41,132.97L184.42,133.18L185.43,133.39L186.43,133.60L187.44,133.80L188.45,134.01L189.46,134.21L190.47,134.41L191.47,134.60L192.48,134.80L193.49,134.99L194.50,135.18L195.50,135.37L196.51,135.56L197.52,135.74L198.53,135.92L199.53,136.10L200.54,136.28L201.55,136.46L202.56,136.64L203.57,136.81L204.57,136.98L205.58,137.15L206.59,137.32L207.60,137.49L208.60,137.65L209.61,137.82L210.62,137.98L211.63,138.14L212.64,138.30L213.64,138.46L214.65,138.62L215.66,138.77L216.67,138.93L217.67,139.08L218.68,139.23L219.69,139.39L220.70,139.53L221.71,139.68L222.71,139.83L223.72,139.98L224.73,140.12L225.74,140.26L226.74,140.41L227.75,140.55L228.76,140.69L229.77,140.83L230.78,140.97L231.78,141.10L232.79,141.24L233.80,141.37L234.81,141.51L235.81,141.64L236.82,141.77L237.83,141.90L238.84,142.03L239.84,142.16L240.85,142.29L241.86,142.42L242.87,142.55L243.88,142.67L244.88,142.80L245.89,142.92L246.90,143.04L247.91,143.17L248.91,143.29L249.92,143.41L250.93,143.53L251.94,143.65L252.95,143.77L253.95,143.88L254.96,144.00L255.97,144.12L256.98,144.23L257.98,144.35L258.99,144.46L260.00,144.57L263.07,144.92L266.15,145.25L269.22,145.58L272.30,145.90L275.37,146.22L278.45,146.54L281.52,146.84L284.60,147.15L287.67,147.44L290.75,147.74L293.82,148.03L296.90,148.31L299.97,148.59L303.05,148.87L306.12,149.14L309.20,149.40L312.27,149.67L315.35,149.93L318.42,150.19L321.50,150.44L324.57,150.69L327.65,150.94L330.72,151.18L333.80,151.42L336.87,151.66L339.95,151.89L343.02,152.13L346.09,152.35L349.17,152.58L352.24,152.80L355.32,153.03L358.39,153.24L361.47,153.46L364.54,153.67L367.62,153.88L370.69,154.09L373.77,154.30L376.84,154.50L379.92,154.71L382.99,154.91L386.07,155.11L389.14,155.30L392.22,155.50L395.29,155.69L398.37,155.88L401.44,156.07L404.52,156.25L407.59,156.44L410.67,156.62L413.74,156.80L416.82,156.98L419.89,157.16L422.97,157.34L426.04,157.51L429.12,157.68L432.19,157.86L435.26,158.03L438.34,158.20L441.41,158.36L444.49,158.53L447.56,158.69L450.64,158.86L453.71,159.02L456.79,159.18L459.86,159.34L462.94,159.50L466.01,159.65L469.09,159.81L472.16,159.96L475.24,160.12L478.31,160.27L481.39,160.42L484.46,160.57L487.54,160.72L490.61,160.86L493.69,161.01L496.76,161.15L499.84,161.30L502.91,161.44L505.99,161.58L509.06,161.72L512.14,161.86L515.21,162.00L518.28,162.14L521.36,162.28L524.43,162.41L527.51,162.55L530.58,162.68L533.66,162.82L536.73,162.95L539.81,163.08L542.88,163.21L545.96,163.34L549.03,163.47L552.11,163.60L555.18,163.73L558.26,163.85L561.33,163.98L564.41,164.11L567.48,164.23L570.56,164.35L573.63,164.48L576.71,164.60L579.78,164.72L582.86,164.84L585.93,164.96L589.01,165.08L592.08,165.20L595.16,165.32L598.23,165.43L601.31,165.55L604.38,165.66L607.45,165.78L610.53,165.89L613.60,166.01L616.68,166.12L619.75,166.23L622.83,166.35L625.90,166.46L628.98,166.57L632.05,166.68L635.13,166.79L638.20,166.90L641.28,167.00L644.35,167.11L647.43,167.22L650.50,167.33L653.58,167.43L656.65,167.54L659.73,167.64L662.80,167.75L665.88,167.85L668.95,167.95L672.03,168.06L675.10,168.16L678.18,168.26L681.25,168.36L684.33,168.46L687.40,168.56L687.40,220.78L684.33,220.67L681.25,220.56L678.18,220.45L675.10,220.33L672.03,220.22L668.95,220.11L665.88,219.99L662.80,219.88L659.73,219.76L656.65,219.65L653.58,219.53L650.50,219.41L647.43,219.29L644.35,219.18L641.28,219.06L638.20,218.94L635.13,218.82L632.05,218.70L628.98,218.57L625.90,218.45L622.83,218.33L619.75,218.21L616.68,218.08L613.60,217.96L610.53,217.83L607.45,217.71L604.38,217.58L601.31,217.45L598.23,217.32L595.16,217.20L592.08,217.07L589.01,216.94L585.93,216.81L582.86,216.67L579.78,216.54L576.71,216.41L573.63,216.28L570.56,216.14L567.48,216.01L564.41,215.87L561.33,215.73L558.26,215.60L555.18,215.46L552.11,215.32L549.03,215.18L545.96,215.04L542.88,214.90L539.81,214.75L536.73,214.61L533.66,214.47L530.58,214.32L527.51,214.17L524.43,214.03L521.36,213.88L518.28,213.73L515.21,213.58L512.14,213.43L509.06,213.28L505.99,213.12L502.91,212.97L499.84,212.81L496.76,212.66L493.69,212.50L490.61,212.34L487.54,212.18L484.46,212.02L481.39,211.86L478.31,211.70L475.24,211.53L472.16,211.37L469.09,211.20L466.01,211.03L462.94,210.87L459.86,210.70L456.79,210.52L453.71,210.35L450.64,210.18L447.56,210.00L444.49,209.82L441.41,209.65L438.34,209.47L435.26,209.29L432.19,209.10L429.12,208.92L426.04,208.73L422.97,208.55L419.89,208.36L416.82,208.17L413.74,207.97L410.67,207.78L407.59,207.58L404.52,207.39L401.44,207.19L398.37,206.99L395.29,206.78L392.22,206.58L389.14,206.37L386.07,206.17L382.99,205.95L379.92,205.74L376.84,205.53L373.77,205.31L370.69,205.09L367.62,204.87L364.54,204.65L361.47,204.42L358.39,204.19L355.32,203.96L352.24,203.73L349.17,203.49L346.09,203.25L343.02,203.01L339.95,202.77L336.87,202.52L333.80,202.27L330.72,202.02L327.65,201.76L324.57,201.50L321.50,201.24L318.42,200.98L315.35,200.71L312.27,200.43L309.20,200.16L306.12,199.88L303.05,199.60L299.97,199.31L296.90,199.02L293.82,198.72L290.75,198.42L287.67,198.12L284.60,197.81L281.52,197.49L278.45,197.17L275.37,196.85L272.30,196.52L269.22,196.19L266.15,195.85L263.07,195.50L260.00,195.15L258.99,195.03L257.98,194.92L256.98,194.80L255.97,194.68L254.96,194.56L253.95,194.44L252.95,194.32L251.94,194.20L250.93,194.07L249.92,193.95L248.91,193.83L247.91,193.70L246.90,193.58L245.89,193.45L244.88,193.32L243.88,193.20L242.87,193.07L241.86,192.94L240.85,192.81L239.84,192.68L238.84,192.54L237.83,192.41L236.82,192.28L235.81,192.14L234.81,192.01L233.80,191.87L232.79,191.73L231.78,191.59L230.78,191.45L229.77,191.31L228.76,191.17L227.75,191.03L226.74,190.88L225.74,190.74L224.73,190.59L223.72,190.45L222.71,190.30L221.71,190.15L220.70,190.00L219.69,189.85L218.68,189.69L217.67,189.54L216.67,189.38L215.66,189.23L214.65,189.07L213.64,188.91L212.64,188.75L211.63,188.59L210.62,188.43L209.61,188.26L208.60,188.09L207.60,187.93L206.59,187.76L205.58,187.59L204.57,187.42L203.57,187.24L202.56,187.07L201.55,186.89L200.54,186.71L199.53,186.53L198.53,186.35L197.52,186.17L196.51,185.98L195.50,185.79L194.50,185.60L193.49,185.41L192.48,185.22L191.47,185.03L190.47,184.83L189.46,184.63L188.45,184.43L187.44,184.22L186.43,184.02L185.43,183.81L184.42,183.60L183.41,183.39L182.40,183.17L181.40,182.95L180.39,182.73L179.38,182.51L178.37,182.29L177.36,182.06L176.36,181.83L175.35,181.59L174.34,181.35L173.33,181.11L172.33,180.87L171.32,180.62L170.31,180.37L169.30,180.12L168.29,179.86L167.29,179.60L166.28,179.34L165.27,179.07L164.26,178.80L163.26,178.52L162.25,178.24L161.24,177.95L160.23,177.66L159.22,177.37L158.22,177.07L157.21,176.76L156.20,176.45L155.19,176.14L154.19,175.82L153.18,175.49L152.17,175.16L151.16,174.82L150.16,174.47L149.15,174.12L148.14,173.76L147.13,173.39L146.12,173.01L145.12,172.63L144.11,172.24L143.10,171.84L142.09,171.43L141.09,171.01L140.08,170.58L139.07,170.14L138.06,169.68L137.05,169.22L136.05,168.74L135.04,168.25L134.03,167.75L133.02,167.23L132.02,166.69L131.01,166.14L130.00,165.56L129.76,165.42L129.51,165.28L129.27,165.13L129.02,164.99L128.78,164.84L128.53,164.69L128.29,164.54L128.04,164.39L127.80,164.24L127.55,164.09L127.31,163.93L127.06,163.78L126.82,163.62L126.57,163.46L126.33,163.30L126.08,163.14L125.84,162.98L125.59,162.81L125.35,162.64L125.10,162.47L124.86,162.30L124.61,162.13L124.37,161.96L124.12,161.78L123.88,161.61L123.63,161.43L123.39,161.25L123.14,161.06L122.90,160.88L122.65,160.69L122.41,160.50L122.16,160.31L121.92,160.12L121.67,159.92L121.43,159.73L121.18,159.53L120.94,159.32L120.69,159.12L120.45,158.91L120.20,158.70L119.96,158.49L119.71,158.28L119.47,158.06L119.22,157.84L118.98,157.61L118.73,157.39L118.49,157.16L118.24,156.92L118.00,156.69L117.75,156.45L117.51,156.21L117.26,155.96L117.02,155.71L116.77,155.46L116.53,155.20L116.28,154.94L116.04,154.67L115.79,154.40L115.55,154.13L115.30,153.85L115.06,153.57L114.81,153.28L114.57,152.98L114.32,152.69L114.08,152.38L113.83,152.07L113.59,151.76L113.34,151.44L113.10,151.11L112.85,150.78L112.61,150.44L112.36,150.09L112.12,149.74L111.87,149.37L111.63,149.00L111.38,148.62L111.14,148.24L110.89,147.84L110.65,147.44L110.40,147.02L110.16,146.60L109.91,146.16L109.67,145.71L109.42,145.25L109.18,144.78L108.93,144.29L108.69,143.79L108.44,143.28L108.20,142.74L107.95,142.20L107.71,141.63L107.46,141.04L107.22,140.43L106.97,139.80L106.73,139.15L106.48,138.47L106.24,137.76L105.99,137.03L105.75,136.26L105.50,135.45L105.26,134.61L105.01,133.72L104.77,132.78L104.52,131.79L104.28,130.75L104.03,129.63L103.79,128.45L103.54,127.17L103.30,125.80L103.05,124.32L102.81,122.71L102.56,120.93L102.32,118.97L102.07,116.78L101.83,114.29L101.58,111.43L101.34,108.07L101.09,104.02L100.85,98.92L100.50,100.92Z" fill="#990000" fill-opacity="0.2" stroke="#990000" stroke-opacity="0.2" stroke-width="1.1" stroke-linejoin="round"/><path d="M99.55,561.50L100.85,426.44L101.09,427.77L101.34,428.82L101.58,429.68L101.83,430.41L102.07,431.04L102.32,431.60L102.56,432.09L102.81,432.53L103.05,432.94L103.30,433.31L103.54,433.65L103.79,433.96L104.03,434.26L104.28,434.53L104.52,434.79L104.77,435.03L105.01,435.26L105.26,435.48L105.50,435.68L105.75,435.88L105.99,436.07L106.24,436.25L106.48,436.42L106.73,436.58L106.97,436.74L107.22,436.89L107.46,437.04L107.71,437.18L107.95,437.32L108.20,437.45L108.44,437.57L108.69,437.70L108.93,437.82L109.18,437.93L109.42,438.05L109.67,438.16L109.91,438.26L110.16,438.37L110.40,438.47L110.65,438.57L110.89,438.67L111.14,438.76L111.38,438.85L111.63,438.94L111.87,439.03L112.12,439.12L112.36,439.20L112.61,439.28L112.85,439.36L113.10,439.44L113.34,439.52L113.59,439.59L113.83,439.67L114.08,439.74L114.32,439.81L114.57,439.88L114.81,439.95L115.06,440.02L115.30,440.09L115.55,440.15L115.79,440.22L116.04,440.28L116.28,440.34L116.53,440.40L116.77,440.46L117.02,440.52L117.26,440.58L117.51,440.64L117.75,440.70L118.00,440.75L118.24,440.81L118.49,440.86L118.73,440.92L118.98,440.97L119.22,441.02L119.47,441.07L119.71,441.12L119.96,441.18L120.20,441.22L120.45,441.27L120.69,441.32L120.94,441.37L121.18,441.42L121.43,441.46L121.67,441.51L121.92,441.56L122.16,441.60L122.41,441.65L122.65,441.69L122.90,441.73L123.14,441.78L123.39,441.82L123.63,441.86L123.88,441.90L124.12,441.94L124.37,441.98L124.61,442.02L124.86,442.06L125.10,442.10L125.35,442.14L125.59,442.18L125.84,442.22L126.08,442.26L126.33,442.30L126.57,442.33L126.82,442.37L127.06,442.41L127.31,442.44L127.55,442.48L127.80,442.51L128.04,442.55L128.29,442.58L128.53,442.62L128.78,442.65L129.02,442.69L129.27,442.72L129.51,442.75L129.76,442.79L130.00,442.82L131.01,442.95L132.02,443.08L133.02,443.21L134.03,443.33L135.04,443.44L136.05,443.56L137.05,443.67L138.06,443.77L139.07,443.88L140.08,443.98L141.09,444.08L142.09,444.18L143.10,444.27L144.11,444.36L145.12,444.45L146.12,444.54L147.13,444.63L148.14,444.71L149.15,444.80L150.16,444.88L151.16,444.96L152.17,445.04L153.18,445.11L154.19,445.19L155.19,445.26L156.20,445.33L157.21,445.41L158.22,445.48L159.22,445.54L160.23,445.61L161.24,445.68L162.25,445.74L163.26,445.81L164.26,445.87L165.27,445.94L166.28,446.00L167.29,446.06L168.29,446.12L169.30,446.18L170.31,446.24L171.32,446.29L172.33,446.35L173.33,446.41L174.34,446.46L175.35,446.52L176.36,446.57L177.36,446.62L178.37,446.68L179.38,446.73L180.39,446.78L181.40,446.83L182.40,446.88L183.41,446.93L184.42,446.98L185.43,447.03L186.43,447.07L187.44,447.12L188.45,447.17L189.46,447.22L190.47,447.26L191.47,447.31L192.48,447.35L193.49,447.40L194.50,447.44L195.50,447.48L196.51,447.53L197.52,447.57L198.53,447.61L199.53,447.65L200.54,447.69L201.55,447.74L202.56,447.78L203.57,447.82L204.57,447.86L205.58,447.90L206.59,447.94L207.60,447.97L208.60,448.01L209.61,448.05L210.62,448.09L211.63,448.13L212.64,448.16L213.64,448.20L214.65,448.24L215.66,448.27L216.67,448.31L217.67,448.35L218.68,448.38L219.69,448.42L220.70,448.45L221.71,448.49L222.71,448.52L223.72,448.56L224.73,448.59L225.74,448.62L226.74,448.66L227.75,448.69L228.76,448.72L229.77,448.76L230.78,448.79L231.78,448.82L232.79,448.85L233.80,448.88L234.81,448.92L235.81,448.95L236.82,448.98L237.83,449.01L238.84,449.04L239.84,449.07L240.85,449.10L241.86,449.13L242.87,449.16L243.88,449.19L244.88,449.22L245.89,449.25L246.90,449.28L247.91,449.31L248.91,449.34L249.92,449.37L250.93,449.39L251.94,449.42L252.95,449.45L253.95,449.48L254.96,449.51L255.97,449.53L256.98,449.56L257.98,449.59L258.99,449.62L260.00,449.64L263.07,449.72L266.15,449.80L269.22,449.88L272.30,449.96L275.37,450.04L278.45,450.11L281.52,450.19L284.60,450.26L287.67,450.33L290.75,450.40L293.82,450.47L296.90,450.54L299.97,450.61L303.05,450.67L306.12,450.74L309.20,450.81L312.27,450.87L315.35,450.93L318.42,451.00L321.50,451.06L324.57,451.12L327.65,451.18L330.72,451.24L333.80,451.30L336.87,451.36L339.95,451.41L343.02,451.47L346.09,451.53L349.17,451.58L352.24,451.64L355.32,451.69L358.39,451.75L361.47,451.80L364.54,451.85L367.62,451.90L370.69,451.96L373.77,452.01L376.84,452.06L379.92,452.11L382.99,452.16L386.07,452.21L389.14,452.26L392.22,452.30L395.29,452.35L398.37,452.40L401.44,452.45L404.52,452.49L407.59,452.54L410.67,452.59L413.74,452.63L416.82,452.68L419.89,452.72L422.97,452.77L426.04,452.81L429.12,452.85L432.19,452.90L435.26,452.94L438.34,452.98L441.41,453.02L444.49,453.07L447.56,453.11L450.64,453.15L453.71,453.19L456.79,453.23L459.86,453.27L462.94,453.31L466.01,453.35L469.09,453.39L472.16,453.43L475.24,453.47L478.31,453.51L481.39,453.55L484.46,453.58L487.54,453.62L490.61,453.66L493.69,453.70L496.76,453.73L499.84,453.77L502.91,453.81L505.99,453.84L509.06,453.88L512.14,453.92L515.21,453.95L518.28,453.99L521.36,454.02L524.43,454.06L527.51,454.09L530.58,454.13L533.66,454.16L536.73,454.20L539.81,454.23L542.88,454.26L545.96,454.30L549.03,454.33L552.11,454.36L555.18,454.40L558.26,454.43L561.33,454.46L564.41,454.49L567.48,454.53L570.56,454.56L573.63,454.59L576.71,454.62L579.78,454.65L582.86,454.69L585.93,454.72L589.01,454.75L592.08,454.78L595.16,454.81L598.23,454.84L601.31,454.87L604.38,454.90L607.45,454.93L610.53,454.96L613.60,454.99L616.68,455.02L619.75,455.05L622.83,455.08L625.90,455.11L628.98,455.14L632.05,455.17L635.13,455.19L638.20,455.22L641.28,455.25L644.35,455.28L647.43,455.31L650.50,455.34L653.58,455.36L656.65,455.39L659.73,455.42L662.80,455.45L665.88,455.48L668.95,455.50L672.03,455.53L675.10,455.56L678.18,455.58L681.25,455.61L684.33,455.64L687.40,455.66" fill="none" stroke="#ffbfbf" stroke-width="2.78" stroke-linejoin="round" stroke-linecap="square"/><path d="M99.55,561.50L100.85,108.51L101.09,114.37L101.34,118.58L101.58,121.81L101.83,124.42L102.07,126.60L102.32,128.48L102.56,130.12L102.81,131.59L103.05,132.92L103.30,134.14L103.54,135.26L103.79,136.30L104.03,137.27L104.28,138.18L104.52,139.05L104.77,139.87L105.01,140.65L105.26,141.39L105.50,142.10L105.75,142.78L105.99,143.44L106.24,144.07L106.48,144.68L106.73,145.26L106.97,145.83L107.22,146.38L107.46,146.92L107.71,147.43L107.95,147.94L108.20,148.43L108.44,148.90L108.69,149.37L108.93,149.82L109.18,150.26L109.42,150.69L109.67,151.11L109.91,151.52L110.16,151.93L110.40,152.32L110.65,152.70L110.89,153.08L111.14,153.45L111.38,153.81L111.63,154.17L111.87,154.52L112.12,154.86L112.36,155.20L112.61,155.53L112.85,155.85L113.10,156.17L113.34,156.48L113.59,156.79L113.83,157.09L114.08,157.39L114.32,157.68L114.57,157.97L114.81,158.26L115.06,158.53L115.30,158.81L115.55,159.08L115.79,159.35L116.04,159.61L116.28,159.87L116.53,160.13L116.77,160.38L117.02,160.63L117.26,160.87L117.51,161.12L117.75,161.36L118.00,161.59L118.24,161.82L118.49,162.05L118.73,162.28L118.98,162.50L119.22,162.73L119.47,162.94L119.71,163.16L119.96,163.37L120.20,163.59L120.45,163.79L120.69,164.00L120.94,164.20L121.18,164.40L121.43,164.60L121.67,164.80L121.92,164.99L122.16,165.19L122.41,165.38L122.65,165.57L122.90,165.75L123.14,165.94L123.39,166.12L123.63,166.30L123.88,166.48L124.12,166.66L124.37,166.83L124.61,167.00L124.86,167.18L125.10,167.34L125.35,167.51L125.59,167.68L125.84,167.84L126.08,168.01L126.33,168.17L126.57,168.33L126.82,168.49L127.06,168.65L127.31,168.80L127.55,168.96L127.80,169.11L128.04,169.26L128.29,169.41L128.53,169.56L128.78,169.71L129.02,169.86L129.27,170.00L129.51,170.15L129.76,170.29L130.00,170.43L131.01,171.00L132.02,171.55L133.02,172.08L134.03,172.60L135.04,173.10L136.05,173.59L137.05,174.06L138.06,174.52L139.07,174.96L140.08,175.40L141.09,175.82L142.09,176.23L143.10,176.63L144.11,177.02L145.12,177.40L146.12,177.77L147.13,178.13L148.14,178.49L149.15,178.83L150.16,179.17L151.16,179.50L152.17,179.83L153.18,180.14L154.19,180.45L155.19,180.76L156.20,181.05L157.21,181.35L158.22,181.63L159.22,181.91L160.23,182.19L161.24,182.46L162.25,182.72L163.26,182.98L164.26,183.24L165.27,183.49L166.28,183.74L167.29,183.98L168.29,184.22L169.30,184.45L170.31,184.68L171.32,184.91L172.33,185.14L173.33,185.36L174.34,185.57L175.35,185.79L176.36,186.00L177.36,186.20L178.37,186.41L179.38,186.61L180.39,186.81L181.40,187.00L182.40,187.19L183.41,187.38L184.42,187.57L185.43,187.76L186.43,187.94L187.44,188.12L188.45,188.29L189.46,188.47L190.47,188.64L191.47,188.81L192.48,188.98L193.49,189.15L194.50,189.31L195.50,189.48L196.51,189.64L197.52,189.80L198.53,189.95L199.53,190.11L200.54,190.26L201.55,190.41L202.56,190.56L203.57,190.71L204.57,190.86L205.58,191.00L206.59,191.15L207.60,191.29L208.60,191.43L209.61,191.57L210.62,191.71L211.63,191.84L212.64,191.98L213.64,192.11L214.65,192.24L215.66,192.38L216.67,192.51L217.67,192.63L218.68,192.76L219.69,192.89L220.70,193.01L221.71,193.14L222.71,193.26L223.72,193.38L224.73,193.50L225.74,193.62L226.74,193.74L227.75,193.86L228.76,193.97L229.77,194.09L230.78,194.20L231.78,194.32L232.79,194.43L233.80,194.54L234.81,194.65L235.81,194.76L236.82,194.87L237.83,194.98L238.84,195.08L239.84,195.19L240.85,195.30L241.86,195.40L242.87,195.50L243.88,195.61L244.88,195.71L245.89,195.81L246.90,195.91L247.91,196.01L248.91,196.11L249.92,196.21L250.93,196.31L251.94,196.41L252.95,196.50L253.95,196.60L254.96,196.69L255.97,196.79L256.98,196.88L257.98,196.98L258.99,197.07L260.00,197.16L263.07,197.44L266.15,197.71L269.22,197.98L272.30,198.24L275.37,198.50L278.45,198.75L281.52,199.00L284.60,199.25L287.67,199.49L290.75,199.72L293.82,199.96L296.90,200.19L299.97,200.41L303.05,200.64L306.12,200.86L309.20,201.07L312.27,201.29L315.35,201.50L318.42,201.71L321.50,201.92L324.57,202.12L327.65,202.32L330.72,202.52L333.80,202.72L336.87,202.91L339.95,203.10L343.02,203.29L346.09,203.48L349.17,203.67L352.24,203.85L355.32,204.03L358.39,204.21L361.47,204.39L364.54,204.57L367.62,204.75L370.69,204.92L373.77,205.09L376.84,205.26L379.92,205.43L382.99,205.60L386.07,205.77L389.14,205.94L392.22,206.10L395.29,206.26L398.37,206.43L401.44,206.59L404.52,206.75L407.59,206.90L410.67,207.06L413.74,207.22L416.82,207.37L419.89,207.53L422.97,207.68L426.04,207.83L429.12,207.99L432.19,208.14L435.26,208.29L438.34,208.43L441.41,208.58L444.49,208.73L447.56,208.88L450.64,209.02L453.71,209.17L456.79,209.31L459.86,209.45L462.94,209.60L466.01,209.74L469.09,209.88L472.16,210.02L475.24,210.16L478.31,210.30L481.39,210.44L484.46,210.58L487.54,210.71L490.61,210.85L493.69,210.99L496.76,211.12L499.84,211.26L502.91,211.39L505.99,211.53L509.06,211.66L512.14,211.79L515.21,211.93L518.28,212.06L521.36,212.19L524.43,212.32L527.51,212.45L530.58,212.58L533.66,212.71L536.73,212.84L539.81,212.97L542.88,213.10L545.96,213.23L549.03,213.35L552.11,213.48L555.18,213.61L558.26,213.73L561.33,213.86L564.41,213.99L567.48,214.11L570.56,214.24L573.63,214.36L576.71,214.49L579.78,214.61L582.86,214.73L585.93,214.86L589.01,214.98L592.08,215.10L595.16,215.23L598.23,215.35L601.31,215.47L604.38,215.59L607.45,215.71L610.53,215.84L613.60,215.96L616.68,216.08L619.75,216.20L622.83,216.32L625.90,216.44L628.98,216.56L632.05,216.68L635.13,216.79L638.20,216.91L641.28,217.03L644.35,217.15L647.43,217.27L650.50,217.39L653.58,217.50L656.65,217.62L659.73,217.74L662.80,217.86L665.88,217.97L668.95,218.09L672.03,218.21L675.10,218.32L678.18,218.44L681.25,218.55L684.33,218.67L687.40,218.78" fill="none" stroke="#ff8080" stroke-width="2.78" stroke-linejoin="round" stroke-linecap="square"/><path d="M99.55,561.50L100.85,86.10L101.09,91.18L101.34,95.20L101.58,98.53L101.83,101.35L102.07,103.80L102.32,105.95L102.56,107.88L102.81,109.61L103.05,111.19L103.30,112.63L103.54,113.97L103.79,115.20L104.03,116.35L104.28,117.43L104.52,118.45L104.77,119.40L105.01,120.31L105.26,121.16L105.50,121.98L105.75,122.75L105.99,123.49L106.24,124.20L106.48,124.88L106.73,125.53L106.97,126.16L107.22,126.76L107.46,127.34L107.71,127.90L107.95,128.44L108.20,128.97L108.44,129.47L108.69,129.96L108.93,130.44L109.18,130.90L109.42,131.35L109.67,131.79L109.91,132.22L110.16,132.63L110.40,133.03L110.65,133.43L110.89,133.81L111.14,134.19L111.38,134.55L111.63,134.91L111.87,135.26L112.12,135.60L112.36,135.94L112.61,136.26L112.85,136.58L113.10,136.90L113.34,137.21L113.59,137.51L113.83,137.81L114.08,138.10L114.32,138.38L114.57,138.66L114.81,138.94L115.06,139.21L115.30,139.48L115.55,139.74L115.79,139.99L116.04,140.25L116.28,140.50L116.53,140.74L116.77,140.98L117.02,141.22L117.26,141.45L117.51,141.69L117.75,141.91L118.00,142.14L118.24,142.36L118.49,142.57L118.73,142.79L118.98,143.00L119.22,143.21L119.47,143.42L119.71,143.62L119.96,143.82L120.20,144.02L120.45,144.21L120.69,144.41L120.94,144.60L121.18,144.79L121.43,144.97L121.67,145.16L121.92,145.34L122.16,145.52L122.41,145.70L122.65,145.87L122.90,146.04L123.14,146.22L123.39,146.39L123.63,146.55L123.88,146.72L124.12,146.88L124.37,147.05L124.61,147.21L124.86,147.37L125.10,147.53L125.35,147.68L125.59,147.84L125.84,147.99L126.08,148.14L126.33,148.29L126.57,148.44L126.82,148.59L127.06,148.73L127.31,148.88L127.55,149.02L127.80,149.16L128.04,149.30L128.29,149.44L128.53,149.58L128.78,149.72L129.02,149.85L129.27,149.99L129.51,150.12L129.76,150.25L130.00,150.38L131.01,150.91L132.02,151.42L133.02,151.92L134.03,152.40L135.04,152.86L136.05,153.31L137.05,153.75L138.06,154.18L139.07,154.60L140.08,155.00L141.09,155.40L142.09,155.78L143.10,156.16L144.11,156.52L145.12,156.88L146.12,157.23L147.13,157.58L148.14,157.91L149.15,158.24L150.16,158.57L151.16,158.88L152.17,159.19L153.18,159.49L154.19,159.79L155.19,160.09L156.20,160.37L157.21,160.66L158.22,160.93L159.22,161.21L160.23,161.47L161.24,161.74L162.25,162.00L163.26,162.25L164.26,162.51L165.27,162.75L166.28,163.00L167.29,163.24L168.29,163.47L169.30,163.71L170.31,163.94L171.32,164.16L172.33,164.39L173.33,164.61L174.34,164.83L175.35,165.04L176.36,165.25L177.36,165.46L178.37,165.67L179.38,165.88L180.39,166.08L181.40,166.28L182.40,166.47L183.41,166.67L184.42,166.86L185.43,167.05L186.43,167.24L187.44,167.42L188.45,167.61L189.46,167.79L190.47,167.97L191.47,168.15L192.48,168.32L193.49,168.50L194.50,168.67L195.50,168.84L196.51,169.01L197.52,169.18L198.53,169.34L199.53,169.51L200.54,169.67L201.55,169.83L202.56,169.99L203.57,170.15L204.57,170.30L205.58,170.46L206.59,170.61L207.60,170.76L208.60,170.92L209.61,171.07L210.62,171.21L211.63,171.36L212.64,171.51L213.64,171.65L214.65,171.79L215.66,171.94L216.67,172.08L217.67,172.22L218.68,172.35L219.69,172.49L220.70,172.63L221.71,172.76L222.71,172.90L223.72,173.03L224.73,173.16L225.74,173.29L226.74,173.42L227.75,173.55L228.76,173.68L229.77,173.81L230.78,173.94L231.78,174.06L232.79,174.19L233.80,174.31L234.81,174.43L235.81,174.55L236.82,174.68L237.83,174.80L238.84,174.92L239.84,175.03L240.85,175.15L241.86,175.27L242.87,175.38L243.88,175.50L244.88,175.62L245.89,175.73L246.90,175.84L247.91,175.95L248.91,176.07L249.92,176.18L250.93,176.29L251.94,176.40L252.95,176.51L253.95,176.62L254.96,176.72L255.97,176.83L256.98,176.94L257.98,177.04L258.99,177.15L260.00,177.25L263.07,177.57L266.15,177.88L269.22,178.18L272.30,178.48L275.37,178.78L278.45,179.06L281.52,179.35L284.60,179.63L287.67,179.91L290.75,180.18L293.82,180.45L296.90,180.71L299.97,180.97L303.05,181.23L306.12,181.48L309.20,181.73L312.27,181.98L315.35,182.22L318.42,182.46L321.50,182.70L324.57,182.93L327.65,183.16L330.72,183.39L333.80,183.62L336.87,183.84L339.95,184.06L343.02,184.28L346.09,184.49L349.17,184.71L352.24,184.92L355.32,185.13L358.39,185.33L361.47,185.53L364.54,185.74L367.62,185.94L370.69,186.13L373.77,186.33L376.84,186.52L379.92,186.71L382.99,186.90L386.07,187.09L389.14,187.28L392.22,187.46L395.29,187.64L398.37,187.82L401.44,188.00L404.52,188.18L407.59,188.35L410.67,188.53L413.74,188.70L416.82,188.87L419.89,189.04L422.97,189.21L426.04,189.38L429.12,189.54L432.19,189.71L435.26,189.87L438.34,190.03L441.41,190.19L444.49,190.35L447.56,190.50L450.64,190.66L453.71,190.82L456.79,190.97L459.86,191.12L462.94,191.27L466.01,191.42L469.09,191.57L472.16,191.72L475.24,191.87L478.31,192.01L481.39,192.16L484.46,192.30L487.54,192.45L490.61,192.59L493.69,192.73L496.76,192.87L499.84,193.01L502.91,193.14L505.99,193.28L509.06,193.42L512.14,193.55L515.21,193.69L518.28,193.82L521.36,193.95L524.43,194.08L527.51,194.21L530.58,194.34L533.66,194.47L536.73,194.60L539.81,194.73L542.88,194.86L545.96,194.98L549.03,195.11L552.11,195.23L555.18,195.36L558.26,195.48L561.33,195.60L564.41,195.72L567.48,195.84L570.56,195.96L573.63,196.08L576.71,196.20L579.78,196.32L582.86,196.44L585.93,196.55L589.01,196.67L592.08,196.79L595.16,196.90L598.23,197.01L601.31,197.13L604.38,197.24L607.45,197.35L610.53,197.47L613.60,197.58L616.68,197.69L619.75,197.80L622.83,197.91L625.90,198.02L628.98,198.12L632.05,198.23L635.13,198.34L638.20,198.45L641.28,198.55L644.35,198.66L647.43,198.76L650.50,198.87L653.58,198.97L656.65,199.08L659.73,199.18L662.80,199.28L665.88,199.38L668.95,199.49L672.03,199.59L675.10,199.69L678.18,199.79L681.25,199.89L684.33,199.99L687.40,200.09" fill="none" stroke="#ff4d4d" stroke-width="2.78" stroke-linejoin="round" stroke-linecap="square"/><path d="M99.55,561.50L100.85,72.32L101.09,77.45L101.34,81.54L101.58,84.94L101.83,87.83L102.07,90.35L102.32,92.58L102.56,94.57L102.81,96.38L103.05,98.02L103.30,99.53L103.54,100.93L103.79,102.23L104.03,103.44L104.28,104.58L104.52,105.65L104.77,106.66L105.01,107.61L105.26,108.52L105.50,109.38L105.75,110.21L105.99,110.99L106.24,111.75L106.48,112.47L106.73,113.17L106.97,113.84L107.22,114.48L107.46,115.10L107.71,115.70L107.95,116.28L108.20,116.85L108.44,117.39L108.69,117.92L108.93,118.43L109.18,118.93L109.42,119.41L109.67,119.88L109.91,120.34L110.16,120.79L110.40,121.23L110.65,121.65L110.89,122.07L111.14,122.47L111.38,122.87L111.63,123.25L111.87,123.63L112.12,124.00L112.36,124.37L112.61,124.72L112.85,125.07L113.10,125.41L113.34,125.74L113.59,126.07L113.83,126.40L114.08,126.71L114.32,127.02L114.57,127.33L114.81,127.63L115.06,127.92L115.30,128.21L115.55,128.50L115.79,128.78L116.04,129.05L116.28,129.32L116.53,129.59L116.77,129.85L117.02,130.11L117.26,130.37L117.51,130.62L117.75,130.87L118.00,131.11L118.24,131.35L118.49,131.59L118.73,131.83L118.98,132.06L119.22,132.29L119.47,132.51L119.71,132.73L119.96,132.95L120.20,133.17L120.45,133.38L120.69,133.60L120.94,133.80L121.18,134.01L121.43,134.21L121.67,134.42L121.92,134.61L122.16,134.81L122.41,135.01L122.65,135.20L122.90,135.39L123.14,135.58L123.39,135.76L123.63,135.95L123.88,136.13L124.12,136.31L124.37,136.49L124.61,136.67L124.86,136.84L125.10,137.01L125.35,137.19L125.59,137.36L125.84,137.52L126.08,137.69L126.33,137.86L126.57,138.02L126.82,138.18L127.06,138.34L127.31,138.50L127.55,138.66L127.80,138.81L128.04,138.97L128.29,139.12L128.53,139.27L128.78,139.42L129.02,139.57L129.27,139.72L129.51,139.87L129.76,140.01L130.00,140.16L131.01,140.74L132.02,141.30L133.02,141.85L134.03,142.37L135.04,142.89L136.05,143.38L137.05,143.87L138.06,144.34L139.07,144.80L140.08,145.24L141.09,145.68L142.09,146.10L143.10,146.52L144.11,146.92L145.12,147.32L146.12,147.71L147.13,148.09L148.14,148.46L149.15,148.82L150.16,149.18L151.16,149.53L152.17,149.87L153.18,150.20L154.19,150.53L155.19,150.86L156.20,151.17L157.21,151.49L158.22,151.79L159.22,152.09L160.23,152.39L161.24,152.68L162.25,152.97L163.26,153.25L164.26,153.53L165.27,153.80L166.28,154.07L167.29,154.34L168.29,154.60L169.30,154.86L170.31,155.11L171.32,155.36L172.33,155.61L173.33,155.85L174.34,156.09L175.35,156.33L176.36,156.56L177.36,156.80L178.37,157.02L179.38,157.25L180.39,157.47L181.40,157.69L182.40,157.91L183.41,158.13L184.42,158.34L185.43,158.55L186.43,158.75L187.44,158.96L188.45,159.16L189.46,159.36L190.47,159.56L191.47,159.76L192.48,159.95L193.49,160.14L194.50,160.34L195.50,160.52L196.51,160.71L197.52,160.89L198.53,161.08L199.53,161.26L200.54,161.44L201.55,161.61L202.56,161.79L203.57,161.96L204.57,162.14L205.58,162.31L206.59,162.48L207.60,162.64L208.60,162.81L209.61,162.97L210.62,163.14L211.63,163.30L212.64,163.46L213.64,163.62L214.65,163.78L215.66,163.93L216.67,164.09L217.67,164.24L218.68,164.40L219.69,164.55L220.70,164.70L221.71,164.85L222.71,164.99L223.72,165.14L224.73,165.29L225.74,165.43L226.74,165.57L227.75,165.72L228.76,165.86L229.77,166.00L230.78,166.14L231.78,166.27L232.79,166.41L233.80,166.55L234.81,166.68L235.81,166.82L236.82,166.95L237.83,167.08L238.84,167.21L239.84,167.34L240.85,167.47L241.86,167.60L242.87,167.73L243.88,167.85L244.88,167.98L245.89,168.11L246.90,168.23L247.91,168.35L248.91,168.48L249.92,168.60L250.93,168.72L251.94,168.84L252.95,168.96L253.95,169.08L254.96,169.20L255.97,169.31L256.98,169.43L257.98,169.55L258.99,169.66L260.00,169.78L263.07,170.12L266.15,170.46L269.22,170.80L272.30,171.13L275.37,171.45L278.45,171.77L281.52,172.08L284.60,172.38L287.67,172.69L290.75,172.99L293.82,173.28L296.90,173.57L299.97,173.85L303.05,174.13L306.12,174.41L309.20,174.68L312.27,174.95L315.35,175.22L318.42,175.48L321.50,175.74L324.57,175.99L327.65,176.25L330.72,176.50L333.80,176.74L336.87,176.98L339.95,177.22L343.02,177.46L346.09,177.70L349.17,177.93L352.24,178.16L355.32,178.38L358.39,178.61L361.47,178.83L364.54,179.05L367.62,179.27L370.69,179.48L373.77,179.69L376.84,179.90L379.92,180.11L382.99,180.32L386.07,180.52L389.14,180.72L392.22,180.92L395.29,181.12L398.37,181.31L401.44,181.51L404.52,181.70L407.59,181.89L410.67,182.08L413.74,182.27L416.82,182.45L419.89,182.64L422.97,182.82L426.04,183.00L429.12,183.18L432.19,183.36L435.26,183.53L438.34,183.71L441.41,183.88L444.49,184.05L447.56,184.22L450.64,184.39L453.71,184.56L456.79,184.72L459.86,184.89L462.94,185.05L466.01,185.21L469.09,185.38L472.16,185.54L475.24,185.69L478.31,185.85L481.39,186.01L484.46,186.16L487.54,186.32L490.61,186.47L493.69,186.62L496.76,186.77L499.84,186.92L502.91,187.07L505.99,187.22L509.06,187.36L512.14,187.51L515.21,187.66L518.28,187.80L521.36,187.94L524.43,188.08L527.51,188.22L530.58,188.36L533.66,188.50L536.73,188.64L539.81,188.78L542.88,188.91L545.96,189.05L549.03,189.18L552.11,189.32L555.18,189.45L558.26,189.58L561.33,189.71L564.41,189.85L567.48,189.98L570.56,190.10L573.63,190.23L576.71,190.36L579.78,190.49L582.86,190.61L585.93,190.74L589.01,190.86L592.08,190.99L595.16,191.11L598.23,191.23L601.31,191.35L604.38,191.48L607.45,191.60L610.53,191.72L613.60,191.83L616.68,191.95L619.75,192.07L622.83,192.19L625.90,192.31L628.98,192.42L632.05,192.54L635.13,192.65L638.20,192.77L641.28,192.88L644.35,192.99L647.43,193.10L650.50,193.22L653.58,193.33L656.65,193.44L659.73,193.55L662.80,193.66L665.88,193.77L668.95,193.88L672.03,193.99L675.10,194.09L678.18,194.20L681.25,194.31L684.33,194.41L687.40,194.52" fill="none" stroke="#990000" stroke-width="2.78" stroke-linejoin="round" stroke-linecap="square"/></g><g fill="#000"><rect x="98.94" y="589.23" width="1.12" height="4.73"/><rect x="271.85" y="589.23" width="1.12" height="4.73"/><rect x="444.77" y="589.23" width="1.12" height="4.73"/><rect x="617.69" y="589.23" width="1.12" height="4.73"/><rect x="87.85" y="559.84" width="4.73" height="1.12"/><rect x="87.85" y="463.04" width="4.73" height="1.12"/><rect x="87.85" y="366.24" width="4.73" height="1.12"/><rect x="87.85" y="269.44" width="4.73" height="1.12"/><rect x="87.85" y="172.64" width="4.73" height="1.12"/><rect x="87.85" y="75.84" width="4.73" height="1.12"/></g><rect x="92.58" y="9.62" width="594.8199999999999" height="579.61" fill="none" stroke="#000" stroke-width="1.12"/><g font-family="Liberation Sans, sans-serif" font-size="29.17" fill="#000" stroke="#000" stroke-width="0.32" text-rendering="geometricPrecision"><text transform="translate(99.50,619.8) scale(1.005,0.992)" text-anchor="middle">0</text><text transform="translate(272.41,619.8) scale(1.005,0.992)" text-anchor="middle">50</text><text transform="translate(445.33,619.8) scale(1.005,0.992)" text-anchor="middle">100</text><text transform="translate(618.25,619.8) scale(1.005,0.992)" text-anchor="middle">150</text><text transform="translate(83.0,571.20) scale(1.005,0.992)" text-anchor="end">0.0</text><text transform="translate(83.0,474.40) scale(1.005,0.992)" text-anchor="end">0.5</text><text transform="translate(83.0,377.60) scale(1.005,0.992)" text-anchor="end">1.0</text><text transform="translate(83.0,280.80) scale(1.005,0.992)" text-anchor="end">1.5</text><text transform="translate(83.0,184.00) scale(1.005,0.992)" text-anchor="end">2.0</text><text transform="translate(83.0,87.20) scale(1.005,0.992)" text-anchor="end">2.5</text><text transform="translate(390.0,651.9) scale(1.012,0.992)" text-anchor="middle">Time (sec)</text><text transform="translate(31.0,299.6) rotate(-90) scale(1,0.992)" text-anchor="middle">Stress (MPa)</text></g><rect x="562.5" y="17.4" width="117.0" height="96.4" rx="3" ry="3" fill="#fff" fill-opacity="0.8" stroke="#cccccc" stroke-opacity="0.8" stroke-width="1.1"/><g font-family="Liberation Sans, sans-serif" font-size="15.95" fill="#000" stroke="#000" stroke-width="0.2" text-rendering="geometricPrecision"><path d="M569,29.70H600.5" stroke="#ffbfbf" stroke-width="2.78" stroke-linecap="square" fill="none"/><text transform="translate(613.3,35) scale(1,1.0)">200 mW</text><path d="M569,52.57H600.5" stroke="#ff8080" stroke-width="2.78" stroke-linecap="square" fill="none"/><text transform="translate(613.3,58) scale(1,1.0)">300 mW</text><path d="M569,75.44H600.5" stroke="#ff4d4d" stroke-width="2.78" stroke-linecap="square" fill="none"/><text transform="translate(613.3,81) scale(1,1.0)">400 mW</text><path d="M569,98.31H600.5" stroke="#990000" stroke-width="2.78" stroke-linecap="square" fill="none"/><text transform="translate(613.3,104) scale(1,1.0)">500 mW</text></g></svg>
</body></html>
